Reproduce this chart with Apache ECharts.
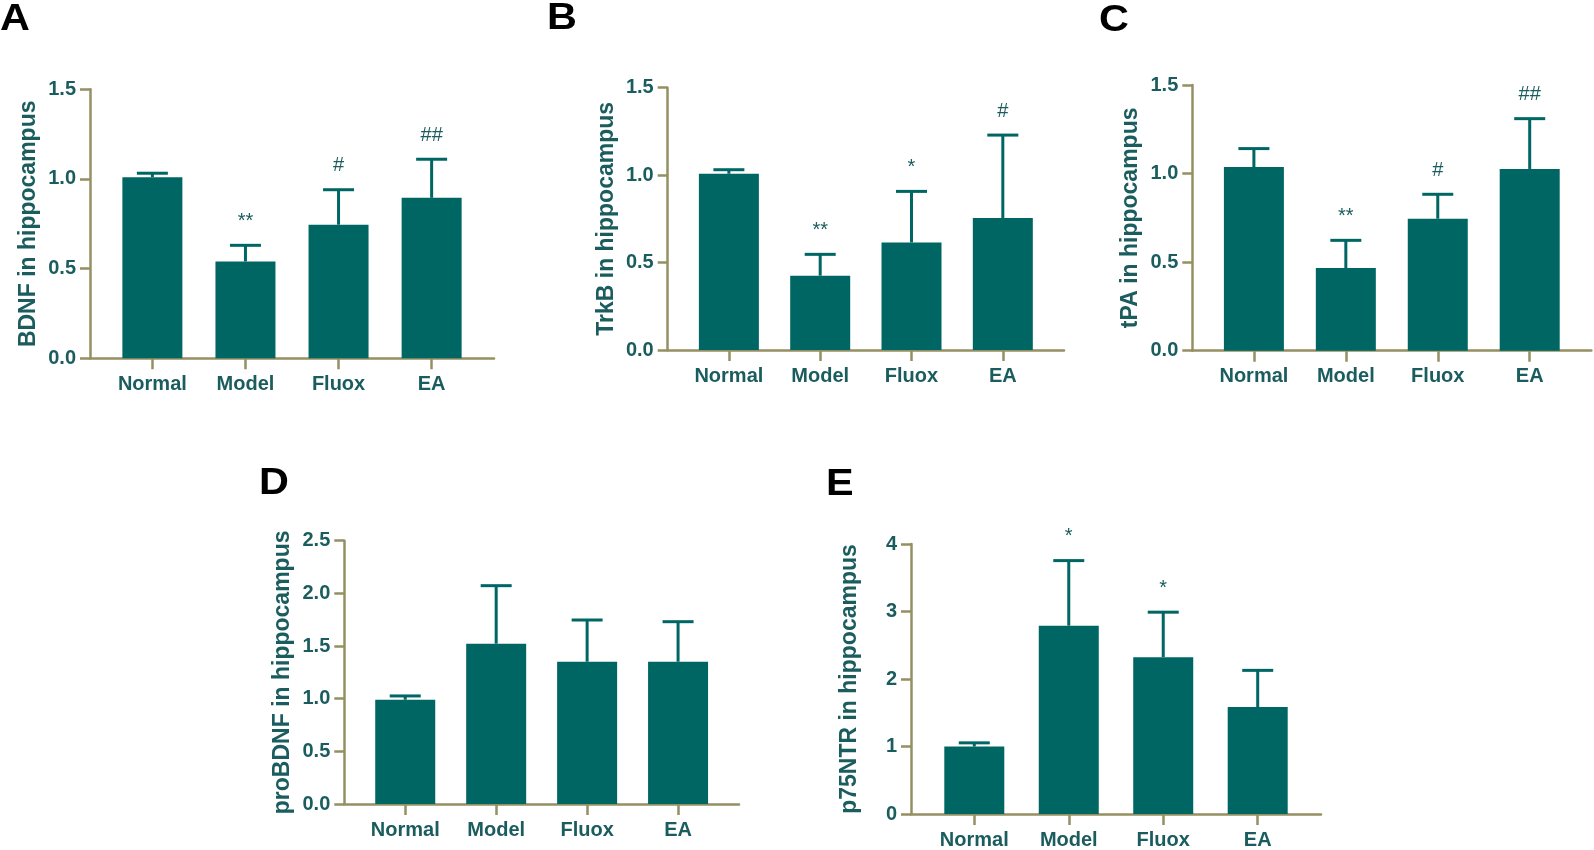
<!DOCTYPE html>
<html lang="en">
<head>
<meta charset="UTF-8">
<title>Hippocampal protein expression</title>
<script src="https://cdn.jsdelivr.net/npm/echarts@6/dist/echarts.min.js"></script>
<style>
html, body { margin: 0; padding: 0; background: #ffffff; }
#chart { width: 1594px; height: 850px; }
</style>
</head>
<body>
<div id="chart"></div>
<script>
// groups on the x axis
const categories = ['Normal', 'Model', 'Fluox', 'EA'];

// A - BDNF
const bdnfMean = [1.01, 0.54, 0.745, 0.895];
const bdnfErr = [0.022, 0.09, 0.195, 0.215];
const bdnfMarks = ['', '**', '#', '##'];
// B - TrkB
const trkbMean = [1.008, 0.425, 0.615, 0.755];
const trkbErr = [0.023, 0.122, 0.292, 0.474];
const trkbMarks = ['', '**', '*', '#'];
// C - tPA
const tpaMean = [1.037, 0.467, 0.745, 1.026];
const tpaErr = [0.104, 0.156, 0.138, 0.284];
const tpaMarks = ['', '**', '#', '##'];
// D - proBDNF
const probdnfMean = [0.99, 1.522, 1.351, 1.351];
const probdnfErr = [0.036, 0.551, 0.396, 0.38];
const probdnfMarks = ['', '', '', ''];
// E - p75NTR
const p75Mean = [1.0, 2.79, 2.324, 1.584];
const p75Err = [0.054, 0.964, 0.666, 0.544];
const p75Marks = ['', '*', '*', ''];

const yTicksA = [0, 0.5, 1.0, 1.5];
const yTicksD = [0, 0.5, 1.0, 1.5, 2.0, 2.5];
const yTicksE = [0, 1, 2, 3, 4];

const TEAL = '#006663';
const TEXT = '#1b5c5e';
const OLIVE = '#959063';
const FONT = '"Liberation Sans", Arial, sans-serif';

// panel boxes (axis area in px)
const panels = [
  { letter: 'A', lx: 0, ly: 22, left: 90, top: 89.3, width: 404, height: 269, name: 'BDNF in hippocampus', mean: bdnfMean, err: bdnfErr, marks: bdnfMarks, ticks: yTicksA, digits: 1 },
  { letter: 'B', lx: 547, ly: 21.5, left: 667.7, top: 87.7, width: 396.3, height: 262.3, name: 'TrkB in hippocampus', mean: trkbMean, err: trkbErr, marks: trkbMarks, ticks: yTicksA, digits: 1 },
  { letter: 'C', lx: 1099, ly: 23, left: 1192.3, top: 85, width: 399, height: 265.7, name: 'tPA in hippocampus', mean: tpaMean, err: tpaErr, marks: tpaMarks, ticks: yTicksA, digits: 1 },
  { letter: 'D', lx: 259, ly: 486.5, left: 344.3, top: 540.7, width: 394.7, height: 263.3, name: 'proBDNF in hippocampus', mean: probdnfMean, err: probdnfErr, marks: probdnfMarks, ticks: yTicksD, digits: 1 },
  { letter: 'E', lx: 826, ly: 487, left: 911, top: 544, width: 410, height: 272, name: 'p75NTR in hippocampus', mean: p75Mean, err: p75Err, marks: p75Marks, ticks: yTicksE, digits: 0 }
];

const grids = [], xAxes = [], yAxes = [], series = [], letters = [];

panels.forEach(function (p, k) {
  grids.push({ left: p.left, top: p.top, width: p.width, height: p.height, containLabel: false });
  xAxes.push({
    gridIndex: k, type: 'value', min: -0.67, max: 3.67,
    axisLine: { show: true, onZero: false, lineStyle: { color: OLIVE, width: 2.5 } },
    axisTick: { show: true, length: 11, customValues: [0, 1, 2, 3], lineStyle: { color: OLIVE, width: 2.5 } },
    axisLabel: {
      customValues: [0, 1, 2, 3], margin: 16,
      formatter: function (v) { return categories[Math.round(v)]; },
      color: TEXT, fontFamily: FONT, fontWeight: 'bold', fontSize: 20
    },
    splitLine: { show: false }
  });
  const maxV = p.ticks[p.ticks.length - 1];
  yAxes.push({
    gridIndex: k, type: 'value', min: 0, max: maxV, interval: p.ticks[1] - p.ticks[0],
    name: p.name, nameLocation: 'middle', nameGap: 50,
    nameTextStyle: { color: TEXT, fontFamily: FONT, fontWeight: 'bold', fontSize: 23 },
    axisLine: { show: true, onZero: false, lineStyle: { color: OLIVE, width: 2.5 } },
    axisTick: { show: true, length: 10, lineStyle: { color: OLIVE, width: 2.5 } },
    axisLabel: {
      margin: 14, color: TEXT, fontFamily: FONT, fontWeight: 'bold', fontSize: 20,
      formatter: function (v) { return v.toFixed(p.digits); }
    },
    splitLine: { show: false }
  });
  series.push({
    type: 'bar', xAxisIndex: k, yAxisIndex: k, barWidth: 60,
    itemStyle: { color: TEAL },
    data: p.mean.map(function (m, i) { return [i, m]; }),
    z: 2
  });
  series.push({
    type: 'custom', xAxisIndex: k, yAxisIndex: k, z: 3,
    data: p.mean.map(function (m, i) { return [i, m, p.err[i]]; }),
    renderItem: function (params, api) {
      const x = api.value(0), m = api.value(1), e = api.value(2);
      const base = api.coord([x, m]);
      const top = api.coord([x, m + e]);
      const kids = [
        { type: 'line', shape: { x1: base[0], y1: base[1], x2: top[0], y2: top[1] }, style: { stroke: TEAL, lineWidth: 3 } },
        { type: 'line', shape: { x1: top[0] - 15.5, y1: top[1], x2: top[0] + 15.5, y2: top[1] }, style: { stroke: TEAL, lineWidth: 3 } }
      ];
      const mark = p.marks[params.dataIndex];
      if (mark) {
        kids.push({
          type: 'text', x: top[0], y: top[1] - 14,
          style: { text: mark, fill: TEXT, font: '20px ' + FONT, textAlign: 'center', textVerticalAlign: 'bottom' }
        });
      }
      return { type: 'group', children: kids };
    }
  });
  letters.push({
    type: 'text', left: p.lx, top: p.ly - 20, scaleX: 1.15,
    style: { text: p.letter, fill: '#000', font: 'bold 36px ' + FONT }
  });
});

const chart = echarts.init(document.getElementById('chart'));
chart.setOption({
  animation: false,
  grid: grids,
  xAxis: xAxes,
  yAxis: yAxes,
  series: series,
  graphic: letters
});
window.addEventListener('resize', function () { chart.resize(); });
</script>
</body>
</html>
